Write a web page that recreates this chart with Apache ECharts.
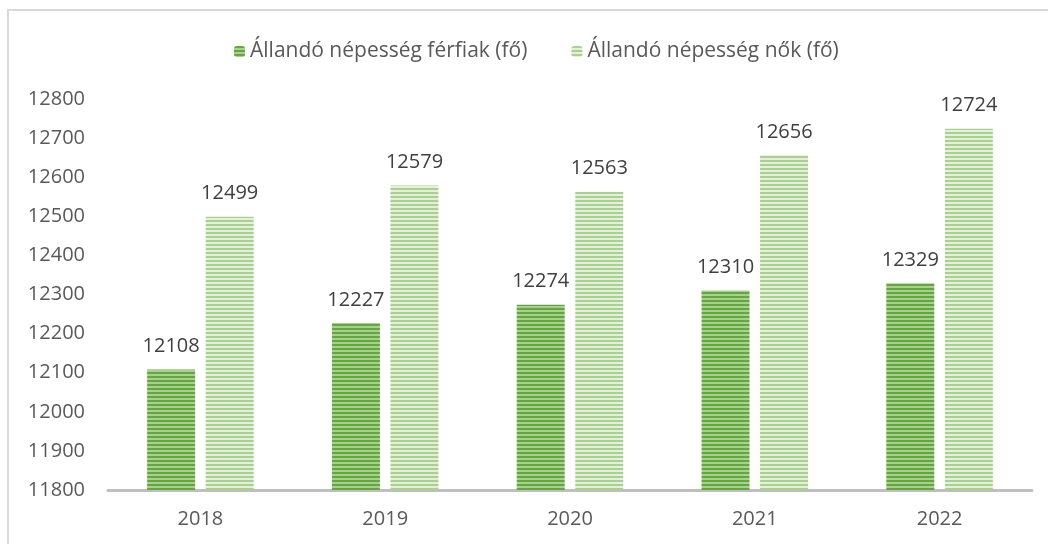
<!DOCTYPE html>
<html>
<head>
<meta charset="utf-8">
<script src="https://cdn.jsdelivr.net/npm/echarts@6/dist/echarts.min.js"></script>
<style>
  html, body { margin: 0; padding: 0; background: #fff; }
  #chart { width: 1048px; height: 544px; }
  #frame { position: absolute; left: 7px; top: 9px; right: 0; bottom: 0;
           border-left: 2px solid #d9d9d9; border-top: 2px solid #d9d9d9; pointer-events: none; }
</style>
</head>
<body>
<div id="chart"></div>
<div id="frame"></div>
<script>
const years = ['2018', '2019', '2020', '2021', '2022'];
const men = [12108, 12227, 12274, 12310, 12329];
const women = [12499, 12579, 12563, 12656, 12724];
const seriesNames = ['Állandó népesség férfiak (fő)', 'Állandó népesség nők (fő)'];

// striped fill, like the excel pattern
function stripes(c1, c2) {
    const cv = document.createElement('canvas');
    cv.width = 4;
    cv.height = 4;
    const ctx = cv.getContext('2d');
    ctx.fillStyle = c2;
    ctx.fillRect(0, 0, 4, 4);
    ctx.fillStyle = c1;
    ctx.fillRect(0, 0, 4, 2);
    return { image: cv, repeat: 'repeat' };
}

const chart = echarts.init(document.getElementById('chart'));
const labelStyle = { show: true, position: 'top', distance: 13, color: '#404040', fontSize: 20, fontFamily: 'Open Sans' };

chart.setOption({
    animation: false,
    textStyle: { fontFamily: 'Open Sans' },
    legend: {
        top: 36,
        left: 229,
        itemWidth: 11,
        itemHeight: 11,
        itemGap: 44,
        textStyle: { color: '#595959', fontSize: 21 },
        data: seriesNames
    },
    grid: { left: 108, right: 16, top: 99, bottom: 54 },
    xAxis: {
        type: 'category',
        data: years,
        axisLine: { lineStyle: { color: '#bfbfbf', width: 3 } },
        axisTick: { show: false },
        axisLabel: { color: '#595959', fontSize: 20, margin: 19 }
    },
    yAxis: {
        type: 'value',
        min: 11800,
        max: 12800,
        interval: 100,
        splitLine: { show: false },
        axisLine: { show: false },
        axisLabel: { color: '#595959', fontSize: 20, margin: 23, formatter: v => String(v) }
    },
    series: [
        {
            name: seriesNames[0],
            type: 'bar',
            data: men,
            barWidth: 48,
            barGap: '22%',
            itemStyle: { color: stripes('#64a640', '#a9d18e') },
            label: labelStyle
        },
        {
            name: seriesNames[1],
            type: 'bar',
            data: women,
            barWidth: 48,
            itemStyle: { color: stripes('#a9d18e', '#e4f0db') },
            label: labelStyle
        }
    ]
});
</script>
</body>
</html>
